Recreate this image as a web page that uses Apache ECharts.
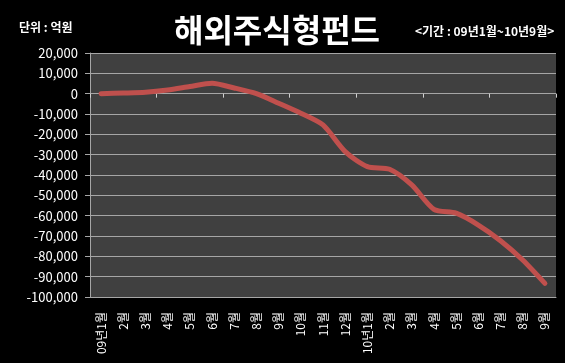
<!DOCTYPE html>
<html><head><meta charset="utf-8">
<script src="https://cdn.jsdelivr.net/npm/echarts@6/dist/echarts.min.js"></script>
<style>html,body{margin:0;padding:0;background:#000;}#c{width:565px;height:363px;}</style>
</head><body><div id="c"></div>
<script>
var categories = ['09년1월','2월','3월','4월','5월','6월','7월','8월','9월','10월','11월','12월','10년1월','2월','3월','4월','5월','6월','7월','8월','9월'];
var fundValues = [0, 300, 700, 1800, 3500, 5100, 2800, 0, -4700, -9600, -15400, -28500, -35900, -37200, -44900, -56900, -58800, -64600, -72300, -81800, -93300];
var yTicks = {min: -100000, max: 20000, interval: 10000};
var titleText = '해외주식형펀드';
var unitText = '단위 : 억원';
var periodText = '<기간 : 09년1월~10년9월>';

var font = '"Noto Sans CJK KR", "Noto Sans", sans-serif';
var chart = echarts.init(document.getElementById('c'));
chart.setOption({
  backgroundColor: '#000',
  animation: false,
  title: [
    {text: titleText, left: 272, top: 9, textAlign: 'center', textStyle: {color: '#fff', fontSize: 32, fontWeight: 'bold', fontFamily: font}},
    {text: unitText, left: 14, top: 16, textStyle: {color: '#fff', fontSize: 12, fontWeight: 'bold', fontFamily: font}},
    {text: periodText, left: 410, top: 20, textStyle: {color: '#fff', fontSize: 12, fontWeight: 'bold', fontFamily: font}}
  ],
  grid: {left: 90, right: 9, top: 53, bottom: 66, show: true, backgroundColor: '#404040', borderWidth: 0},
  xAxis: [
    {type: 'category', data: categories, boundaryGap: true, position: 'bottom',
     axisLine: {onZero: false, show: true, lineStyle: {color: '#a6a6a6', width: 1}},
     axisTick: {show: false},
     axisLabel: {rotate: 90, margin: 15, color: '#fff', fontSize: 12, fontFamily: font, interval: 0}},
    {type: 'category', data: categories, boundaryGap: true, position: 'bottom',
     axisLine: {onZero: true, show: false},
     axisTick: {show: true, length: 4, lineStyle: {color: '#d0d0d0'}},
     axisLabel: {show: false}}
  ],
  yAxis: {type: 'value', min: yTicks.min, max: yTicks.max, interval: yTicks.interval,
    axisLine: {show: true, lineStyle: {color: '#a6a6a6'}},
    axisTick: {show: true, length: 5, lineStyle: {color: '#a6a6a6'}},
    splitLine: {show: true, lineStyle: {color: '#a6a6a6', width: 1}},
    axisLabel: {color: '#fff', fontSize: 13, fontFamily: font, margin: 12,
      formatter: function(v){ return v.toLocaleString('en-US'); }}
  },
  series: [{type: 'line', data: fundValues, xAxisIndex: 0, smooth: 0.25, symbol: 'none',
    lineStyle: {color: '#c0504d', width: 5, cap: 'round', join: 'round'}}]
});
</script></body></html>
